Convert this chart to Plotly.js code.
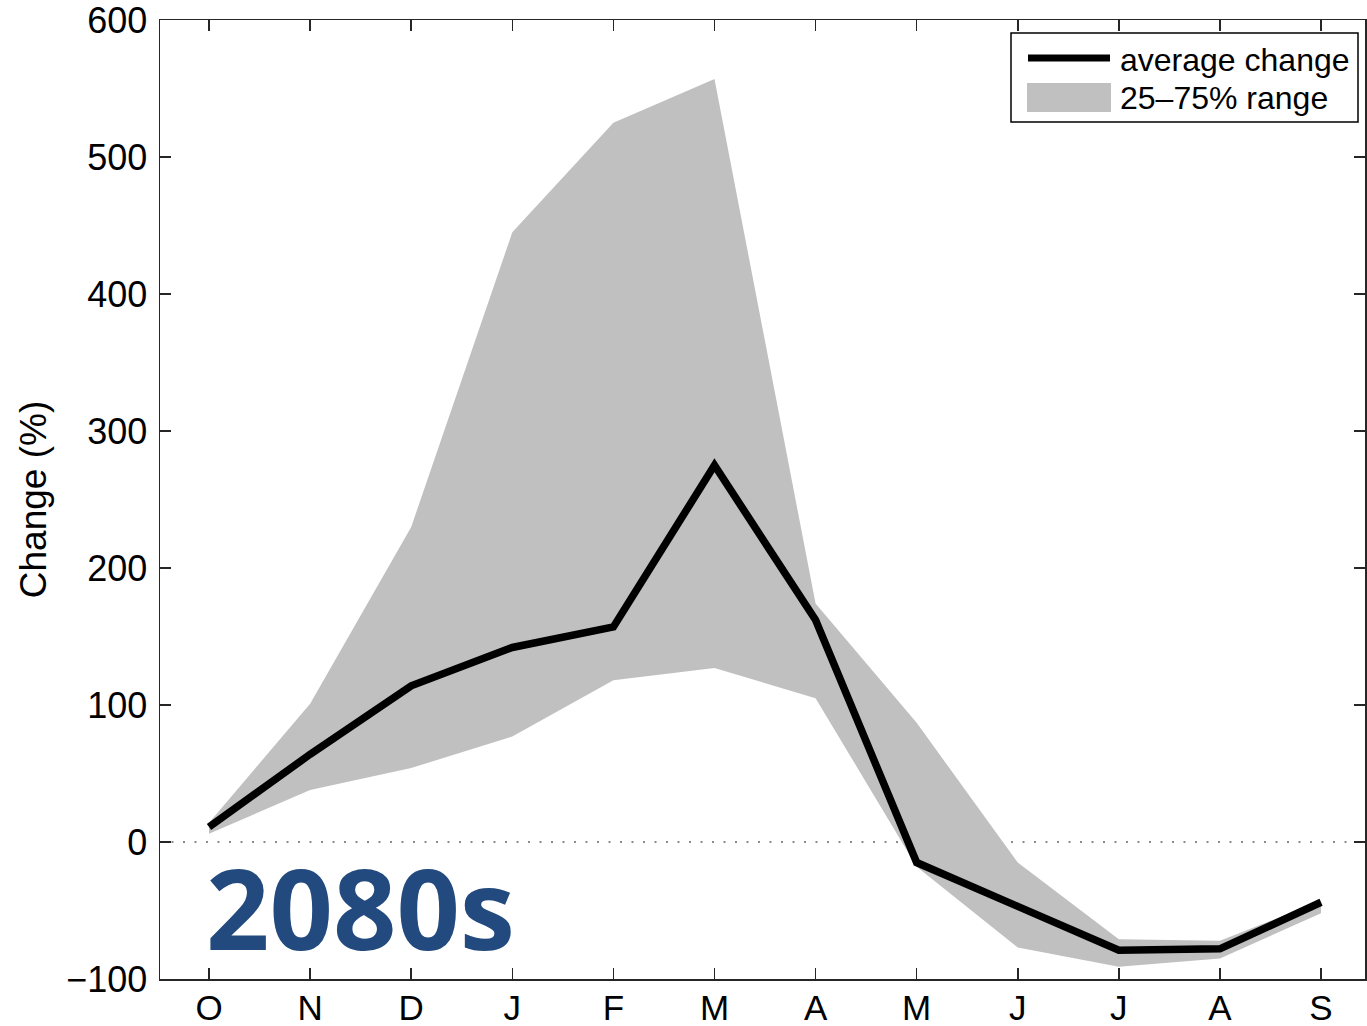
<!DOCTYPE html>
<html>
<head>
<meta charset="utf-8">
<script src="https://cdn.plot.ly/plotly-3.0.1.min.js"></script>
<style>html,body{margin:0;padding:0;background:#fff;}#chart{width:1367px;height:1026px;}</style>
</head>
<body>
<div id="chart"></div>
<script>
const months = ['O','N','D','J','F','M','A','M','J','J','A','S'];
const avgChange = [11, 64, 114, 142, 157, 275, 162, -15, -47, -79, -78, -44];
const upper75 = [14, 101, 230, 445, 525, 557, 174, 87, -15, -71, -72, -43];
const lower25 = [6, 38, 54, 77, 118, 127, 105, -18, -77, -91, -85, -52];
const yTicks = [-100, 0, 100, 200, 300, 400, 500, 600];
const yTickText = ['\u2212100', '0', '100', '200', '300', '400', '500', '600'];
const legendLabels = ['average change', '25\u201375% range'];

const xPos = months.map((m, i) => i + 1);
const FONT = 'Liberation Sans, Arial, sans-serif';

const band = {
  x: xPos.concat(xPos.slice().reverse()),
  y: upper75.concat(lower25.slice().reverse()),
  type: 'scatter', mode: 'lines', fill: 'toself',
  fillcolor: '#c0c0c0', line: {width: 0, color: '#c0c0c0'},
  name: legendLabels[1], hoverinfo: 'skip'
};
const avgLine = {
  x: xPos, y: avgChange, type: 'scatter', mode: 'lines',
  line: {color: '#000000', width: 7.5},
  name: legendLabels[0]
};

const axisCommon = {
  showline: true, mirror: 'ticks', linecolor: '#262626', linewidth: 1.5,
  ticks: 'inside', ticklen: 11, tickwidth: 1.5, tickcolor: '#262626',
  showgrid: false, zeroline: false, ticklabeloverflow: 'allow'
};

// legend drawn in paper coordinates (plot area: x 160..1365, y 20..979 px)
const px = v => (v - 160) / 1205;
const py = v => (979 - v) / 959;

const layout = {
  width: 1367, height: 1026,
  margin: {l: 160, r: 2, t: 20, b: 47},
  paper_bgcolor: '#fff', plot_bgcolor: '#fff',
  font: {family: FONT, color: '#000'},
  showlegend: false,
  xaxis: Object.assign({}, axisCommon, {
    range: [0.515, 12.435], tickmode: 'array', tickvals: xPos, ticktext: months,
    ticklabelstandoff: -3,
    tickfont: {family: FONT, size: 35, color: '#000'}
  }),
  yaxis: Object.assign({}, axisCommon, {
    range: [-100, 600], tickmode: 'array', tickvals: yTicks, ticktext: yTickText,
    ticklabelstandoff: 4,
    tickfont: {family: FONT, size: 36, color: '#000'},
    title: {text: 'Change (%)', font: {size: 37, family: FONT, color: '#000'}, standoff: 8}
  }),
  shapes: [
    {type: 'line', xref: 'paper', x0: 0, x1: 1, yref: 'y', y0: 0, y1: 0,
     line: {color: '#666', width: 1.5, dash: '2px,9.5px'}, layer: 'below'},
    {type: 'rect', xref: 'paper', yref: 'paper', x0: px(1011), x1: px(1358), y0: py(122), y1: py(33),
     line: {color: '#000', width: 1.5}, fillcolor: '#fff', layer: 'above'},
    {type: 'line', xref: 'paper', yref: 'paper', x0: px(1028), x1: px(1110), y0: py(58), y1: py(58),
     line: {color: '#000', width: 7}, layer: 'above'},
    {type: 'rect', xref: 'paper', yref: 'paper', x0: px(1027), x1: px(1111), y0: py(112), y1: py(83),
     line: {width: 0}, fillcolor: '#c0c0c0', layer: 'above'}
  ],
  annotations: [
    {text: legendLabels[0], xref: 'paper', yref: 'paper', x: px(1118), xanchor: 'left',
     y: py(60), yanchor: 'middle', showarrow: false, font: {family: FONT, size: 32, color: '#000'}},
    {text: legendLabels[1], xref: 'paper', yref: 'paper', x: px(1118), xanchor: 'left',
     y: py(98), yanchor: 'middle', showarrow: false, font: {family: FONT, size: 32, color: '#000'}},
    {text: '<b>2080s</b>', xref: 'paper', yref: 'paper',
     x: px(204), xanchor: 'left', y: py(907), yanchor: 'middle',
     showarrow: false,
     font: {family: 'Open Sans, sans-serif', size: 111, color: '#224a7e'}}
  ]
};

Plotly.newPlot('chart', [band, avgLine], layout, {displayModeBar: false, staticPlot: true});
</script>
</body>
</html>
